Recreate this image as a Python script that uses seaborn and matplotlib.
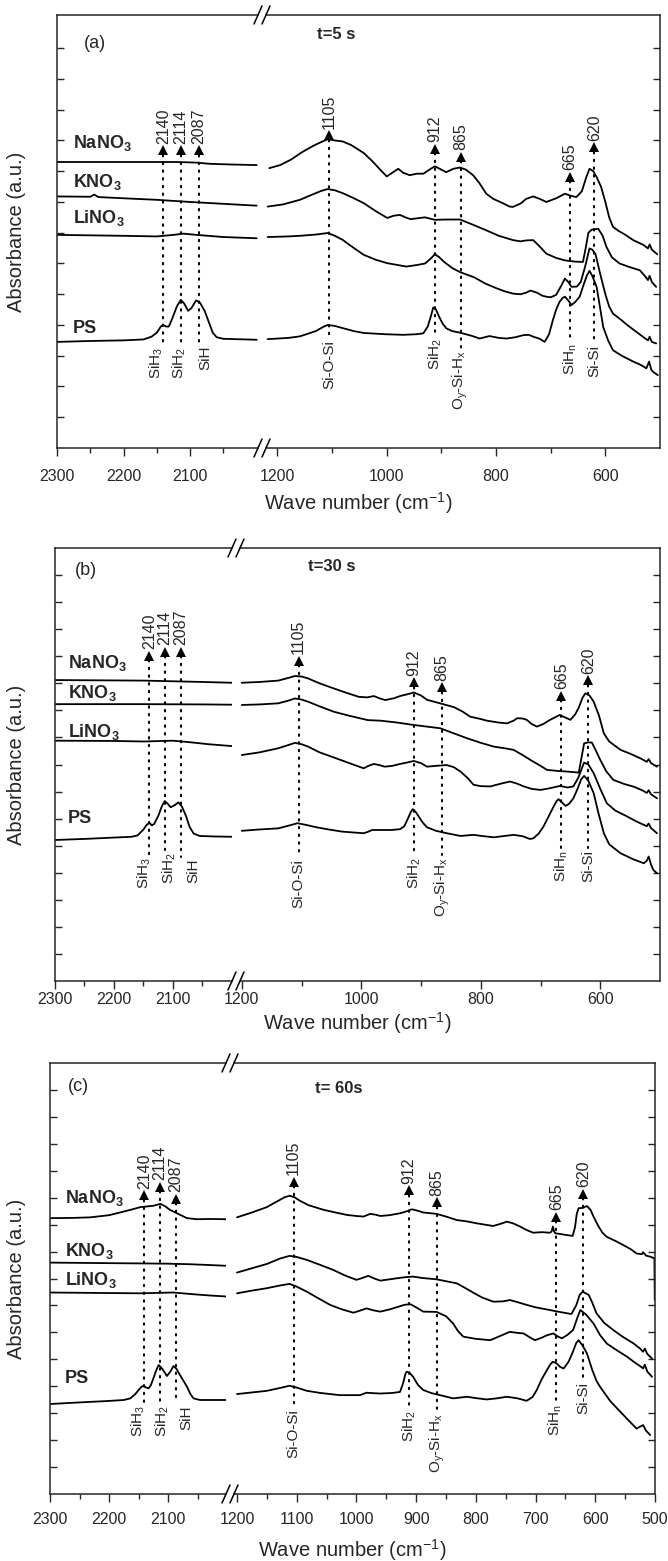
import numpy as np
import matplotlib
matplotlib.use("Agg")
import matplotlib.pyplot as plt
from matplotlib.lines import Line2D
from matplotlib.ticker import FixedLocator
import seaborn as sns

nan = np.nan

# ---------------- panel (a): t = 5 s ----------------
A_NA_WN = [2300, 2200, 2120, 2090, 2070, 2040, 2000, nan,
           1215, 1195, 1175, 1155, 1135, 1120, 1108, 1095, 1081, 1065, 1042, 1025, 1012, 1000, 990, 979, 970,
           958, 945, 933, 922, 912, 900, 891, 878, 866, 855, 842, 830, 818, 805, 790, 775, 769, 755, 745, 732,
           720, 708, 690, 674, 663, 653, 643, 635, 629, 622, 616, 608, 600, 593, 586, 575, 565, 549, 530, 522,
           519, 515, 505]
A_NA_AB = [9.30, 9.30, 9.30, 9.28, 9.24, 9.22, 9.20, nan,
           9.10, 9.20, 9.38, 9.62, 9.82, 9.95, 10.04, 10.00, 9.97, 9.85, 9.59, 9.30, 9.05, 8.83, 8.95, 9.08, 8.95,
           8.87, 8.92, 8.92, 9.05, 9.16, 9.05, 8.97, 9.08, 9.12, 9.05, 8.87, 8.60, 8.27, 8.10, 7.98, 7.85, 7.84, 7.95, 8.10, 8.18,
           8.10, 8.00, 8.12, 8.27, 8.20, 8.16, 8.35, 8.80, 9.08, 9.00, 8.81, 8.50, 8.00, 7.50, 7.19, 7.05, 6.95, 6.76, 6.60, 6.49,
           6.62, 6.45, 6.30]

A_K_WN = [2300, 2250, 2244, 2238, 2200, 2150, 2100, 2050, 2000, nan,
          1218, 1190, 1159, 1135, 1120, 1108, 1095, 1081, 1060, 1042, 1020, 999, 988, 976, 966, 956, 944, 930,
          912, 890, 866, 845, 818, 795, 769, 755, 745, 732, 720, 708, 690, 674, 655, 641, 636, 631, 625, 613,
          605, 598, 588, 574, 555, 537, 528, 522, 519, 515, 507]
A_K_AB = [8.18, 8.17, 8.24, 8.16, 8.12, 8.07, 8.00, 7.94, 7.88, nan,
          7.85, 7.92, 8.07, 8.25, 8.36, 8.42, 8.38, 8.29, 8.12, 7.96, 7.70, 7.48, 7.55, 7.58, 7.50, 7.44, 7.47, 7.50,
          7.42, 7.43, 7.43, 7.28, 7.08, 6.90, 6.76, 6.72, 6.75, 6.76, 6.55, 6.32, 6.18, 6.10, 6.06, 6.05, 6.50, 7.00, 7.10, 7.13,
          6.90, 6.54, 6.20, 6.00, 5.88, 5.78, 5.60, 5.46, 5.60, 5.40, 5.24]

A_LI_WN = [2300, 2200, 2150, 2125, 2110, 2090, 2050, 2000, nan,
           1218, 1180, 1159, 1130, 1108, 1095, 1081, 1060, 1042, 1020, 999, 980, 964, 945, 930, 920, 912, 905,
           895, 880, 866, 840, 820, 800, 785, 769, 755, 745, 737, 725, 715, 708, 700, 690, 680, 674, 668, 662,
           652, 645, 637, 629, 624, 618, 610, 600, 593, 586, 570, 560, 545, 530, 522, 519, 515, 507]
A_LI_AB = [6.93, 6.90, 6.88, 6.93, 6.97, 6.93, 6.86, 6.82, nan,
           6.86, 6.88, 6.90, 6.94, 6.99, 6.90, 6.77, 6.50, 6.28, 6.12, 6.01, 5.95, 5.90, 5.95, 6.00, 6.15, 6.30, 6.22,
           6.05, 5.85, 5.72, 5.55, 5.35, 5.20, 5.10, 5.02, 5.00, 5.05, 5.12, 5.05, 4.95, 4.92, 4.90, 4.98, 5.30, 5.51, 5.40, 5.24,
           5.25, 5.40, 5.90, 6.49, 6.45, 6.30, 5.70, 5.00, 4.60, 4.37, 4.15, 4.00, 3.80, 3.60, 3.50, 3.62, 3.45, 3.40]

A_PS_WN = [2300, 2250, 2200, 2170, 2158, 2150, 2144, 2140, 2136, 2132, 2127, 2120, 2114, 2109, 2103, 2098,
           2091, 2085, 2078, 2072, 2066, 2060, 2050, 2000, nan,
           1218, 1180, 1159, 1130, 1115, 1108, 1095, 1081, 1060, 1042, 1003, 970, 945, 933, 925, 919, 915, 910,
           905, 898, 891, 880, 866, 845, 830, 812, 795, 781, 765, 750, 740, 732, 720, 711, 703, 696, 690, 684,
           678, 674, 668, 662, 655, 647, 640, 634, 629, 624, 616, 610, 604, 595, 586, 570, 549, 535, 525, 520,
           516, 513, 504]
A_PS_AB = [3.45, 3.48, 3.50, 3.53, 3.62, 3.75, 3.95, 4.00, 3.95, 3.95, 4.20, 4.60, 4.82, 4.70, 4.46, 4.55,
           4.80, 4.72, 4.45, 4.10, 3.75, 3.60, 3.55, 3.52, nan,
           3.54, 3.58, 3.63, 3.80, 3.95, 4.00, 3.97, 3.90, 3.80, 3.74, 3.70, 3.68, 3.70, 3.73, 3.95, 4.30, 4.57, 4.50,
           4.30, 4.05, 3.89, 3.80, 3.75, 3.65, 3.56, 3.64, 3.58, 3.56, 3.60, 3.67, 3.68, 3.62, 3.55, 3.45, 3.70, 4.16, 4.50, 4.75,
           4.88, 4.92, 4.80, 4.65, 4.75, 4.92, 5.30, 5.60, 5.76, 5.60, 5.24, 4.60, 3.94, 3.50, 3.18, 3.00, 2.81, 2.70, 2.59, 2.81,
           2.55, 2.48, 2.37]

# ---------------- panel (b): t = 30 s ----------------
B_NA_WN = [2300, 2150, 2050, 2000, nan,
           1200, 1170, 1139, 1122, 1111, 1100, 1089, 1070, 1046, 1025, 1004, 990, 979, 970, 960, 945, 935, 922,
           912, 900, 890, 868, 845, 830, 818, 800, 790, 770, 756, 745, 739, 730, 723, 715, 706, 695, 684, 675,
           668, 660, 650, 642, 636, 630, 625, 618, 611, 602, 594, 585, 566, 550, 533, 522, 519, 515, 505]
B_NA_AB = [11.12, 11.10, 11.05, 11.02, nan,
           11.02, 11.05, 11.10, 11.20, 11.27, 11.25, 11.18, 11.00, 10.81, 10.65, 10.50, 10.48, 10.53, 10.45, 10.38, 10.45, 10.53, 10.60,
           10.66, 10.55, 10.39, 10.26, 10.12, 9.95, 9.77, 9.68, 9.62, 9.55, 9.52, 9.62, 9.71, 9.70, 9.65, 9.50, 9.40, 9.50, 9.65, 9.75,
           9.83, 9.75, 9.65, 9.85, 10.10, 10.45, 10.63, 10.55, 10.32, 9.80, 9.15, 8.85, 8.54, 8.40, 8.23, 8.10, 8.20, 8.05, 7.92]

B_K_WN = [2300, 2150, 2050, 2000, nan,
          1200, 1170, 1139, 1122, 1111, 1100, 1089, 1070, 1046, 1020, 989, 968, 940, 912, 890, 868, 845, 823,
          800, 778, 760, 745, 730, 717, 700, 689, 670, 656, 645, 636, 631, 627, 620, 614, 607, 600, 590, 578,
          560, 544, 530, 522, 519, 515, 505]
B_K_AB = [10.23, 10.23, 10.22, 10.21, nan,
          10.20, 10.22, 10.26, 10.36, 10.44, 10.40, 10.32, 10.15, 9.95, 9.80, 9.64, 9.62, 9.55, 9.46, 9.40, 9.34, 9.15, 8.97,
          8.80, 8.66, 8.60, 8.54, 8.35, 8.17, 7.95, 7.80, 7.76, 7.74, 7.72, 7.70, 8.30, 8.78, 8.82, 8.81, 8.50, 8.17, 7.75, 7.43,
          7.28, 7.18, 7.05, 6.95, 7.05, 6.90, 6.75]

B_LI_WN = [2300, 2200, 2150, 2100, 2070, 2040, 2000, nan,
           1200, 1170, 1139, 1122, 1111, 1100, 1089, 1070, 1046, 1020, 996, 988, 979, 970, 961, 948, 935, 922,
           912, 900, 890, 875, 857, 845, 834, 822, 812, 800, 784, 765, 751, 740, 728, 715, 700, 685, 667, 655,
           645, 637, 631, 627, 620, 611, 600, 589, 575, 555, 540, 522, 519, 515, 505]
B_LI_AB = [8.88, 8.87, 8.85, 8.88, 8.82, 8.75, 8.68, nan,
           8.35, 8.45, 8.60, 8.72, 8.80, 8.75, 8.66, 8.45, 8.26, 8.05, 7.86, 7.95, 8.02, 7.98, 7.92, 7.95, 8.02, 8.08,
           8.13, 8.05, 7.92, 7.95, 7.98, 7.90, 7.74, 7.50, 7.25, 7.20, 7.19, 7.30, 7.37, 7.30, 7.19, 7.10, 7.06, 7.12, 7.21, 7.15,
           7.19, 7.50, 7.85, 8.07, 8.00, 7.68, 7.10, 6.57, 6.30, 6.08, 5.90, 5.72, 5.82, 5.65, 5.46]

B_PS_WN = [2300, 2250, 2200, 2170, 2160, 2150, 2145, 2140, 2136, 2132, 2125, 2119, 2114, 2109, 2104, 2097,
           2091, 2085, 2078, 2072, 2065, 2055, 2030, 2000, nan,
           1200, 1170, 1139, 1120, 1107, 1095, 1075, 1055, 1032, 996, 988, 982, 968, 950, 935, 928, 922, 917,
           914, 909, 904, 897, 890, 875, 857, 834, 812, 795, 778, 760, 745, 730, 718, 712, 703, 695, 686, 678,
           673, 670, 664, 658, 652, 645, 638, 632, 627, 620, 611, 603, 594, 585, 566, 545, 527, 522, 519, 515,
           511, 505]
B_PS_AB = [5.21, 5.25, 5.30, 5.33, 5.38, 5.60, 5.76, 5.85, 5.75, 5.80, 6.10, 6.45, 6.65, 6.55, 6.42, 6.50,
           6.60, 6.45, 6.10, 5.70, 5.45, 5.36, 5.34, 5.33, nan,
           5.55, 5.60, 5.64, 5.75, 5.83, 5.78, 5.68, 5.60, 5.52, 5.46, 5.52, 5.58, 5.58, 5.58, 5.61, 5.72, 6.00, 6.25,
           6.35, 6.25, 6.08, 5.85, 5.68, 5.55, 5.46, 5.36, 5.40, 5.35, 5.31, 5.36, 5.40, 5.35, 5.25, 5.27, 5.45, 5.71, 6.10, 6.45,
           6.65, 6.72, 6.60, 6.47, 6.55, 6.75, 7.10, 7.45, 7.58, 7.40, 6.94, 6.20, 5.46, 5.05, 4.72, 4.50, 4.35, 4.45, 4.60, 4.30,
           4.10, 3.98]

# ---------------- panel (c): t = 60 s ----------------
C_NA_WN = [2300, 2260, 2232, 2200, 2176, 2160, 2147, 2125, 2113, 2105, 2097, 2085, 2068, 2051, 2030, 2000, nan,
           1200, 1175, 1150, 1138, 1128, 1120, 1112, 1104, 1095, 1080, 1055, 1035, 1016, 1000, 988, 977, 968,
           960, 945, 927, 915, 907, 898, 888, 866, 850, 832, 815, 799, 785, 771, 760, 748, 738, 726, 715, 704,
           690, 676, 673, 671, 669, 667, 650, 638, 634, 631, 628, 621, 614, 608, 603, 595, 588, 581, 565, 553,
           540, 531, 522, 520, 515, 508, 501, 500.4]
C_NA_AB = [10.24, 10.25, 10.27, 10.35, 10.48, 10.57, 10.65, 10.70, 10.77, 10.68, 10.55, 10.42, 10.24, 10.20, 10.21, 10.20, nan,
           10.27, 10.45, 10.65, 10.80, 10.92, 11.02, 11.07, 11.02, 10.89, 10.72, 10.55, 10.45, 10.36, 10.32, 10.30, 10.40, 10.37,
           10.32, 10.35, 10.42, 10.50, 10.57, 10.52, 10.45, 10.40, 10.30, 10.17, 10.12, 10.05, 10.00, 9.95, 10.02, 10.11, 10.05, 9.93, 9.80, 9.70,
           9.72, 9.70, 9.75, 9.93, 9.75, 9.68, 9.62, 9.58, 9.90, 10.40, 10.61, 10.62, 10.69, 10.55, 10.30, 9.95, 9.70, 9.55, 9.38, 9.24,
           9.08, 8.93, 8.90, 8.98, 8.85, 8.81, 8.75, 7.20]

C_K_WN = [2300, 2200, 2147, 2100, 2063, 2030, 2000, nan,
          1200, 1175, 1150, 1128, 1112, 1100, 1083, 1060, 1039, 1020, 1000, 990, 980, 970, 960, 935, 918, 905,
          890, 866, 850, 832, 818, 804, 790, 771, 755, 743, 730, 715, 700, 681, 660, 640, 632, 626, 621, 611,
          605, 598, 585, 570, 555, 536, 525, 520, 517, 513, 505]
C_K_AB = [8.59, 8.57, 8.56, 8.55, 8.53, 8.50, 8.47, nan,
          8.22, 8.38, 8.54, 8.74, 8.84, 8.80, 8.69, 8.50, 8.32, 8.12, 7.95, 8.02, 8.10, 8.00, 7.92, 8.00, 8.05, 8.07,
          8.02, 7.97, 7.90, 7.82, 7.65, 7.47, 7.30, 7.14, 7.15, 7.20, 7.12, 7.02, 6.93, 6.85, 6.76, 6.68, 7.00, 7.40, 7.51, 7.39,
          7.10, 6.71, 6.35, 6.09, 5.85, 5.59, 5.40, 5.28, 5.40, 5.20, 5.03]

C_LI_WN = [2300, 2200, 2147, 2110, 2091, 2060, 2030, 2000, nan,
           1200, 1175, 1150, 1128, 1112, 1100, 1083, 1065, 1044, 1025, 1005, 995, 983, 972, 960, 945, 930, 920,
           910, 900, 888, 866, 850, 838, 830, 821, 800, 776, 760, 743, 730, 720, 710, 701, 690, 680, 670, 663,
           656, 647, 637, 630, 625, 615, 603, 592, 581, 565, 547, 535, 522, 520, 517, 513, 505]
C_LI_AB = [7.48, 7.46, 7.45, 7.47, 7.48, 7.42, 7.37, 7.33, nan,
           7.45, 7.55, 7.64, 7.74, 7.80, 7.70, 7.51, 7.28, 7.02, 6.86, 6.73, 6.80, 6.89, 6.82, 6.77, 6.85, 6.95, 7.02,
           7.05, 6.93, 6.77, 6.76, 6.60, 6.33, 6.05, 5.84, 5.76, 5.71, 5.86, 6.02, 5.98, 5.96, 5.82, 5.71, 5.80, 5.90, 5.96, 5.85,
           5.78, 5.90, 6.09, 6.55, 6.83, 6.65, 6.33, 5.90, 5.59, 5.35, 5.10, 4.90, 4.70, 4.66, 4.80, 4.55, 4.35]

C_PS_WN = [2300, 2250, 2204, 2175, 2164, 2156, 2150, 2145, 2142, 2137, 2133, 2129, 2125, 2120, 2116, 2110,
           2102, 2096, 2091, 2086, 2080, 2074, 2068, 2062, 2057, 2046, 2000, nan,
           1200, 1175, 1150, 1125, 1112, 1100, 1083, 1060, 1028, 994, 983, 970, 960, 940, 927, 922, 918, 916,
           911, 905, 897, 888, 875, 860, 838, 815, 800, 782, 765, 748, 730, 715, 705, 698, 690, 681, 675, 671,
           665, 659, 653, 645, 638, 632, 628, 621, 614, 605, 598, 592, 575, 558, 545, 531, 525, 520, 515, 508]
C_PS_AB = [3.34, 3.40, 3.45, 3.49, 3.55, 3.70, 3.86, 3.98, 4.01, 3.95, 3.92, 4.05, 4.29, 4.60, 4.79, 4.65,
           4.38, 4.55, 4.75, 4.65, 4.42, 4.20, 3.98, 3.70, 3.55, 3.49, 3.49, nan,
           3.71, 3.77, 3.83, 3.95, 4.02, 3.95, 3.83, 3.75, 3.67, 3.67, 3.76, 3.74, 3.73, 3.75, 3.79, 4.10, 4.45, 4.54,
           4.50, 4.35, 4.05, 3.86, 3.75, 3.67, 3.55, 3.61, 3.56, 3.51, 3.55, 3.61, 3.55, 3.46, 3.60, 3.86, 4.25, 4.60, 4.82, 4.91,
           4.85, 4.72, 4.66, 4.90, 5.25, 5.60, 5.71, 5.50, 5.22, 4.60, 4.20, 3.98, 3.45, 3.05, 2.75, 2.43, 2.50, 2.56, 2.35, 2.19]

SERIES = ["NaNO$_\\mathbf{3}$", "KNO$_\\mathbf{3}$", "LiNO$_\\mathbf{3}$", "PS"]
PEAKS = [2140, 2114, 2087, 1105, 912, 865, 665, 620]
PEAK_TEXT = ["2140", "2114", "2087", "1105", "912", "865", "665", "620"]
BONDS = ["SiH$_3$", "SiH$_2$", "SiH", "Si-O-Si", "SiH$_2$",
         "O$_\\mathrm{y}$-Si-H$_\\mathrm{x}$", "SiH$_\\mathrm{n}$", "Si-Si"]
LETTERS = ["(a)", "(b)", "(c)"]
TIMES = ["t=5 s", "t=30 s", "t= 60s"]

sns.set_style("ticks")
plt.rcParams["font.family"] = ["Liberation Sans", "DejaVu Sans"]
plt.rcParams["mathtext.fontset"] = "custom"
plt.rcParams["mathtext.rm"] = "Liberation Sans"
plt.rcParams["mathtext.it"] = "Liberation Sans:italic"
plt.rcParams["mathtext.bf"] = "Liberation Sans:bold"

W, H = 668, 1561
fig = plt.figure(figsize=(W / 100, H / 100), dpi=100)


def px_axes(x0, x1, top, bottom):
    return fig.add_axes([x0 / W, 1 - bottom / H, (x1 - x0) / W, (bottom - top) / H])


def fig_line(xs, ys, **kw):
    fig.add_artist(Line2D([x / W for x in xs], [1 - y / H for y in ys], transform=fig.transFigure, **kw))


def draw_curve(ax_l, ax_r, wn, ab):
    wn = np.asarray(wn, float)
    ab = np.asarray(ab, float)
    cut = np.where(np.isnan(wn))[0]
    starts = np.r_[0, cut + 1]
    ends = np.r_[cut, len(wn)]
    for s, e in zip(starts, ends):
        x, y = wn[s:e], ab[s:e]
        ax = ax_l if x.mean() > 1500 else ax_r
        sns.lineplot(x=x, y=y, ax=ax, color="black", lw=1.3, sort=False, estimator=None, legend=False)


panels = [
    dict(box=(57, 258, 266, 660, 15, 448), xl=(2300, 1998), xr=(1221, 500), ytop=14.08, nt=13, pxu=30.8,
         curves=[(A_NA_WN, A_NA_AB), (A_K_WN, A_K_AB), (A_LI_WN, A_LI_AB), (A_PS_WN, A_PS_AB)],
         lab_x=2276, lab_y=[9.75, 8.5, 7.31, 3.74], let=(2260, 13.14), tim=(1093, 13.43),
         base=[9.53, 9.53, 9.53, 10.02, 9.59, 9.32, 8.67, 9.64],
         end=[3.36, 3.36, 3.41, 3.58, 3.63, 3.25, 3.47, 3.41],
         shift=[-7, -1, 7, 0, 0, 0, 0, 0],
         rmaj=[1200, 1000, 800, 600], rmin=[1100, 900, 700], xlab_y=503, pad=9),
    dict(box=(55, 232, 240, 660, 548, 981), xl=(2300, 2000), xr=(1203, 500), ytop=16, nt=15, pxu=27.06,
         curves=[(B_NA_WN, B_NA_AB), (B_K_WN, B_K_AB), (B_LI_WN, B_LI_AB), (B_PS_WN, B_PS_AB)],
         lab_x=2278, lab_y=[11.55, 10.44, 9.03, 5.83], let=(2266, 15.18), tim=(1049, 15.31),
         base=[11.86, 12.0, 12.0, 11.67, 10.87, 10.69, 10.38, 10.94],
         end=[4.65, 4.84, 4.59, 4.59, 4.65, 4.65, 4.9, 4.9],
         shift=[-5, 5, 13, 0, 0, 0, 0, 0],
         rmaj=[1200, 1000, 800, 600], rmin=[1100, 900, 700], xlab_y=1023, pad=2),
    dict(box=(50, 226, 234, 655, 1063, 1494), xl=(2300, 2002), xr=(1205, 500), ytop=16, nt=15, pxu=26.94,
         curves=[(C_NA_WN, C_NA_AB), (C_K_WN, C_K_AB), (C_LI_WN, C_LI_AB), (C_PS_WN, C_PS_AB)],
         lab_x=2275, lab_y=[10.8, 8.82, 7.76, 4.11], let=(2269, 15.13), tim=(1030, 15.07),
         base=[10.92, 11.23, 10.8, 11.42, 11.11, 10.67, 10.12, 10.98],
         end=[3.37, 3.37, 3.37, 3.24, 3.18, 3.06, 3.43, 4.24],
         shift=[-6, 2, 11, 0, 0, 0, -1, 0],
         rmaj=list(range(1200, 499, -100)), rmin=list(range(1150, 549, -100)), xlab_y=1550, pad=7),
]

for i, p in enumerate(panels):
    x0, xb0, xb1, x1, top, bottom = p["box"]
    ax_l = px_axes(x0, xb0, top, bottom)
    ax_r = px_axes(xb1, x1, top, bottom)
    ax_l.set_xlim(*p["xl"])
    ax_r.set_xlim(*p["xr"])
    for ax in (ax_l, ax_r):
        ax.set_ylim(0, p["ytop"])
        ax.set_yticks(np.arange(1, p["nt"] + 1))
        for s in ax.spines.values():
            s.set_linewidth(1.1)
        ax.tick_params(axis="x", which="major", direction="out", length=6, width=1.0,
                       labelsize=11.5, pad=p["pad"], top=False)
        ax.tick_params(axis="x", which="minor", direction="out", length=3.5, width=1.0, top=False)
        ax.set_xlabel("")
        ax.set_ylabel("")
    ax_l.spines["right"].set_visible(False)
    ax_r.spines["left"].set_visible(False)
    ax_l.tick_params(axis="y", direction="in", length=5, width=1.0, left=True, right=False, labelleft=False)
    ax_r.tick_params(axis="y", direction="in", length=5, width=1.0, left=False, right=True,
                     labelleft=False, labelright=False)
    ax_l.xaxis.set_major_locator(FixedLocator([2300, 2200, 2100]))
    ax_l.xaxis.set_minor_locator(FixedLocator([2250, 2150, 2050]))
    ax_r.xaxis.set_major_locator(FixedLocator(p["rmaj"]))
    ax_r.xaxis.set_minor_locator(FixedLocator(p["rmin"]))

    for wn, ab in p["curves"]:
        draw_curve(ax_l, ax_r, wn, ab)

    # series names
    for name, y in zip(SERIES, p["lab_y"]):
        ax_l.text(p["lab_x"], y, name, fontsize=13, fontweight="bold", ha="left", va="baseline")
    ax_l.text(p["let"][0], p["let"][1], LETTERS[i], fontsize=13, ha="left", va="center")
    ax_r.text(p["tim"][0], p["tim"][1], TIMES[i], fontsize=12, fontweight="bold", ha="center", va="center")

    # peak markers
    pxu = p["pxu"]
    for wn, num, bond, b, e, dx in zip(PEAKS, PEAK_TEXT, BONDS, p["base"], p["end"], p["shift"]):
        ax = ax_l if wn > 1500 else ax_r
        ax.plot([wn, wn], [b, e], color="black", lw=1.5, ls=(0, (0.7, 3.0)), dash_capstyle="round")
        ax.plot([wn], [b + 4.5 / pxu], marker="^", ms=6.5, color="black", mew=0)
        ax.text(wn, b + 11 / pxu, num, rotation=90, ha="center", va="bottom", fontsize=11.5)
        ax.annotate(bond, xy=(wn, e), xytext=(dx, -2), textcoords="offset pixels",
                    rotation=90, ha="center", va="top", fontsize=11)

    # axis-break marks
    for xb in (xb0, xb1):
        for yb in (top, bottom):
            fig_line([xb - 4, xb + 4], [yb + 9, yb - 9], color="black", lw=1.1)

    fig.text((x0 + x1) / 2 / W, 1 - p["xlab_y"] / H, "Wave number (cm$^{-1}$)",
             fontsize=14.5, ha="center", va="center")
    fig.text(17 / W, 1 - (top + bottom) / 2 / H, "Absorbance (a.u.)",
             fontsize=14.5, rotation=90, ha="center", va="center")

fig.savefig("out.png", dpi=100)
